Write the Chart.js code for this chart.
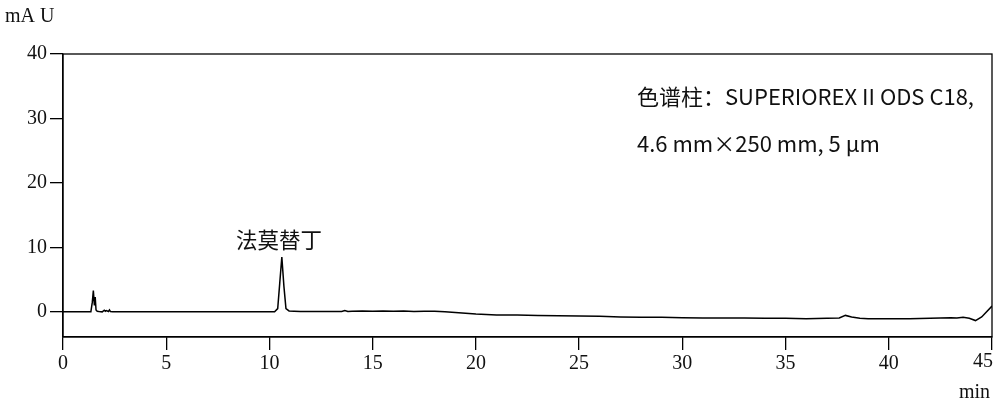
<!DOCTYPE html>
<html>
<head>
<meta charset="utf-8">
<script src="https://cdn.jsdelivr.net/npm/chart.js@4.4.1/dist/chart.umd.min.js"></script>
<style>
  html, body { margin: 0; padding: 0; background: #fff; }
  canvas { display: block; }
</style>
</head>
<body>
<canvas id="chrom" width="1000" height="408"></canvas>
<script>
// Chromatogram data (time in min, signal in mAU)
const times = [
  0, 1.35, 1.42, 1.47, 1.52, 1.56, 1.60, 1.66, 1.75, 1.9, 2.0, 2.05, 2.1, 2.2, 2.25, 2.3, 2.4, 2.6,
  10.25, 10.4, 10.5, 10.6, 10.7, 10.8, 10.95, 11.2, 11.5,
  13.5, 13.65, 13.8, 14.0, 14.5, 15, 15.5, 16, 16.5, 17, 17.5, 18, 18.5, 19, 19.5, 20,
  21, 22, 23, 24, 25, 26, 27, 28, 29, 30, 31, 32, 33, 34, 35, 36, 37,
  37.6, 37.9, 38.2, 38.6, 39, 40, 41, 42, 42.5, 43, 43.3, 43.6, 43.9, 44.2, 44.5, 45
];
const signal = [
  0, 0, 1.5, 3.3, 1.0, 2.3, 0.3, 0.1, 0.05, 0, 0.25, 0.1, 0.2, 0.05, 0.3, 0.05, 0, 0,
  0, 0.5, 4.5, 8.5, 4.0, 0.5, 0.15, 0.1, 0.05,
  0.05, 0.2, 0.05, 0.1, 0.15, 0.1, 0.15, 0.1, 0.15, 0.05, 0.1, 0.1, 0, -0.1, -0.2, -0.35,
  -0.5, -0.5, -0.55, -0.6, -0.65, -0.7, -0.8, -0.85, -0.85, -0.9, -0.95, -0.95, -0.95, -1.0, -1.0, -1.05, -1.0,
  -0.95, -0.55, -0.8, -1.0, -1.05, -1.05, -1.05, -1.0, -0.95, -0.9, -0.95, -0.85, -1.0, -1.35, -0.8, 0.9
];

const xTicks = [0, 5, 10, 15, 20, 25, 30, 35, 40, 45];
const yTicks = [0, 10, 20, 30, 40];

const peakLabel = { text: "法莫替丁", x: 10.46, y: 11.1 };
const columnNote = ["色谱柱：SUPERIOREX II ODS C18,", "4.6 mm×250 mm, 5 μm"];
const yUnit = "mA U";
const xUnit = "min";

const SERIF = "'Liberation Serif', 'Times New Roman', serif";
const SANS = "'Noto Sans CJK SC', 'Noto Sans', sans-serif";

const points = times.map((t, i) => ({ x: t, y: signal[i] }));
const lastX = xTicks[xTicks.length - 1];

// frame around the plot + free text
const decorations = {
  id: "decorations",
  afterDraw(chart) {
    const { ctx, chartArea, scales } = chart;
    ctx.save();
    ctx.strokeStyle = "#000";
    ctx.lineWidth = 1.3;
    ctx.strokeRect(chartArea.left, chartArea.top, chartArea.right - chartArea.left, chartArea.bottom - chartArea.top);

    ctx.fillStyle = "#111";
    ctx.textBaseline = "middle";
    ctx.font = "20px " + SERIF;
    ctx.textAlign = "left";
    ctx.fillText(yUnit, 5, 17);
    ctx.textAlign = "right";
    ctx.fillText(xUnit, 990, 393);
    // last x tick label sits flush with the right edge instead of centred
    ctx.textBaseline = "top";
    ctx.fillText(String(lastX), scales.x.getPixelForValue(lastX) + 1, chartArea.bottom + 15);

    ctx.textBaseline = "middle";
    ctx.font = "21.5px " + SANS;
    ctx.textAlign = "center";
    ctx.fillText(peakLabel.text, scales.x.getPixelForValue(peakLabel.x), scales.y.getPixelForValue(peakLabel.y));

    ctx.font = "22px " + SANS;
    ctx.textAlign = "left";
    ctx.fillText(columnNote[0], 637, 97);
    ctx.fillText(columnNote[1], 637, 144);
    ctx.restore();
  },
};

new Chart(document.getElementById("chrom"), {
  type: "scatter",
  data: {
    datasets: [
      {
        data: points,
        showLine: true,
        borderColor: "#000",
        borderWidth: 1.5,
        pointRadius: 0,
        tension: 0,
      },
    ],
  },
  options: {
    responsive: false,
    animation: false,
    layout: { padding: { left: 0, right: 8, top: 54, bottom: 0 } },
    plugins: { legend: { display: false }, tooltip: { enabled: false } },
    scales: {
      x: {
        type: "linear",
        min: 0,
        max: 45,
        afterBuildTicks: (axis) => { axis.ticks = xTicks.map((v) => ({ value: v })); },
        afterFit: (axis) => {
          axis.height = 71;
          axis.paddingLeft = 0;
          axis.paddingRight = 0;
        },
        border: { display: true, color: "#000", width: 1.3 },
        grid: { drawOnChartArea: false, drawTicks: true, tickLength: 13, color: "#000", lineWidth: 1.3 },
        ticks: {
          color: "#111",
          padding: 2,
          maxRotation: 0,
          font: { family: SERIF, size: 20 },
          callback: (v) => (v === lastX ? "" : v),
        },
      },
      y: {
        type: "linear",
        min: -3.9,
        max: 40,
        afterBuildTicks: (axis) => { axis.ticks = yTicks.map((v) => ({ value: v })); },
        afterFit: (axis) => {
          axis.width = 63;
          axis.paddingTop = 0;
          axis.paddingBottom = 0;
        },
        border: { display: true, color: "#000", width: 1.3 },
        grid: { drawOnChartArea: false, drawTicks: true, tickLength: 13, color: "#000", lineWidth: 1.3 },
        ticks: { color: "#111", padding: 3, font: { family: SERIF, size: 20 } },
      },
    },
  },
  plugins: [decorations],
});
</script>
</body>
</html>
